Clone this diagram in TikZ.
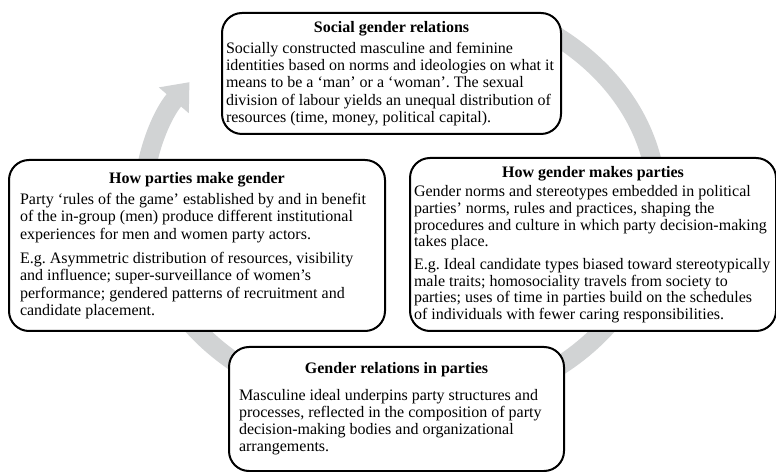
\documentclass[tikz,border=0pt]{standalone}
\usepackage{fontspec}
\setmainfont{Liberation Serif}
\usetikzlibrary{arrows.meta}
\definecolor{ringgray}{RGB}{209,211,212}
\setlength{\parindent}{0pt}
\frenchspacing
\newcommand{\boxtitle}[2][4pt]{{\centering\bfseries #2\par}\vspace{#1}}

\begin{document}
\begin{tikzpicture}[x=1pt,y=1pt,line join=round,font=\fontsize{16}{17.3}\selectfont]
	\tikzset{gbox/.style={draw=black,line width=2pt,rounded corners=20pt,fill=white,
			align=flush left,inner xsep=4pt,inner ysep=0pt,anchor=north west},
		ring/.style={ringgray,line width=19pt,-{Triangle[width=38pt,length=24pt]}}}
	\useasboundingbox (0,0) rectangle (776,471);
	% gray cycle behind the boxes
	\def\cx{400}
	\def\cy{269}
	\draw[ring] (\cx,\cy) ++(57:257pt and 209pt) arc[start angle=57,end angle=-215,x radius=257pt,y radius=209pt];
	% the four boxes
	\node[gbox,text width=331pt,minimum height=121pt] (soc) at (221,459) {\boxtitle{Social gender relations}%
		Socially constructed masculine and feminine\\
		identities based on norms and ideologies on what it\\
		means to be a ‘man’ or a ‘woman’. The sexual\\
		division of labour yields an unequal distribution of\\
		resources (time, money, political capital).};
	\node[gbox,inner xsep=11pt,text width=354pt,minimum height=171pt] (pmg) at (8,312) {\boxtitle{How parties make gender}%
		Party ‘rules of the game’ established by and in benefit\\
		of the in-group (men) produce different institutional\\
		experiences for men and women party actors.\\[7pt]
		E.g. Asymmetric distribution of resources, visibility\\
		and influence; super-surveillance of women’s\\
		performance; gendered patterns of recruitment and\\
		candidate placement.};
	\node[gbox,text width=358pt,minimum height=173pt,font=\fontsize{16}{16.7}\selectfont] (gmp) at (409,314) {\boxtitle[3pt]{How gender makes parties}%
		Gender norms and stereotypes embedded in political\\
		parties’ norms, rules and practices, shaping the\\
		procedures and culture in which party decision-making\\
		takes place.\\[6pt]
		E.g. Ideal candidate types biased toward stereotypically\\
		male traits; homosociality travels from society to\\
		parties; uses of time in parties build on the schedules\\
		of individuals with fewer caring responsibilities.};
	\node[gbox,inner xsep=10pt,text width=315pt,minimum height=124pt] (grp) at (228,125) {\boxtitle[9pt]{Gender relations in parties}%
		Masculine ideal underpins party structures and\\
		processes, reflected in the composition of party\\
		decision-making bodies and organizational\\
		arrangements.};
\end{tikzpicture}
\end{document}
